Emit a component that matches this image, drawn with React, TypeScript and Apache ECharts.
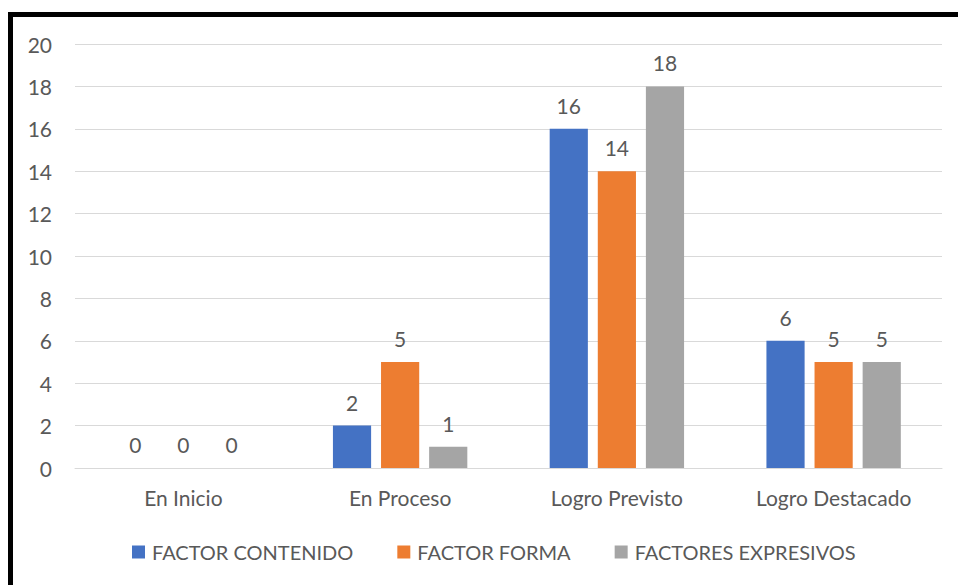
import React, { useEffect, useRef } from "react";
import * as echarts from "echarts";

const categories = ["En Inicio", "En Proceso", "Logro Previsto", "Logro Destacado"];
const seriesNames = ["FACTOR CONTENIDO", "FACTOR FORMA", "FACTORES EXPRESIVOS"];
const contenido = [0, 2, 16, 6];
const forma = [0, 5, 14, 5];
const expresivos = [0, 1, 18, 5];
const colors = ["#4472C4", "#ED7D31", "#A5A5A5"];

const FONT = "Lato";
const TXT = "#595959";

export default function App() {
  const ref = useRef<HTMLDivElement>(null);
  useEffect(() => {
    if (!ref.current) return;
    const chart = echarts.init(ref.current, undefined, { renderer: "svg" });
    const data = [contenido, forma, expresivos];
    chart.setOption({
      animation: false,
      backgroundColor: "#ffffff",
      textStyle: { fontFamily: FONT },
      graphic: [
        {
          type: "rect",
          shape: { x: 10.5, y: 14.5, width: 1200, height: 1200 },
          style: { fill: "none", stroke: "#000000", lineWidth: 5 },
          silent: true,
        },
      ],
      grid: { left: 75, right: 16, top: 44, bottom: 117, containLabel: false },
      legend: {
        top: 537,
        left: 127,
        itemWidth: 13,
        itemHeight: 13,
        itemGap: 44,
        icon: "rect",
        textStyle: { color: TXT, fontSize: 20, fontFamily: FONT, padding: [0, 0, 0, 2] },
        data: seriesNames,
      },
      xAxis: {
        type: "category",
        data: categories,
        axisLine: { lineStyle: { color: "#D9D9D9", width: 1 } },
        axisTick: { show: false },
        axisLabel: { color: TXT, fontSize: 21, margin: 19, fontFamily: FONT },
      },
      yAxis: {
        type: "value",
        min: 0,
        max: 20,
        interval: 2,
        axisLine: { show: false },
        axisTick: { show: false },
        axisLabel: { color: TXT, fontSize: 21, margin: 23, fontFamily: FONT },
        splitLine: { lineStyle: { color: "#D9D9D9", width: 1 } },
      },
      series: seriesNames.map((name, i) => ({
        name,
        type: "bar",
        data: data[i],
        barGap: "26%",
        barCategoryGap: "38%",
        itemStyle: { color: colors[i] },
        label: {
          show: true,
          position: "top",
          distance: 13,
          color: TXT,
          fontSize: 21,
          fontFamily: FONT,
        },
      })),
    });
    return () => chart.dispose();
  }, []);
  return (
    <div
      ref={ref}
      style={{ position: "fixed", left: 0, top: 0, width: 958, height: 585 }}
    />
  );
}
